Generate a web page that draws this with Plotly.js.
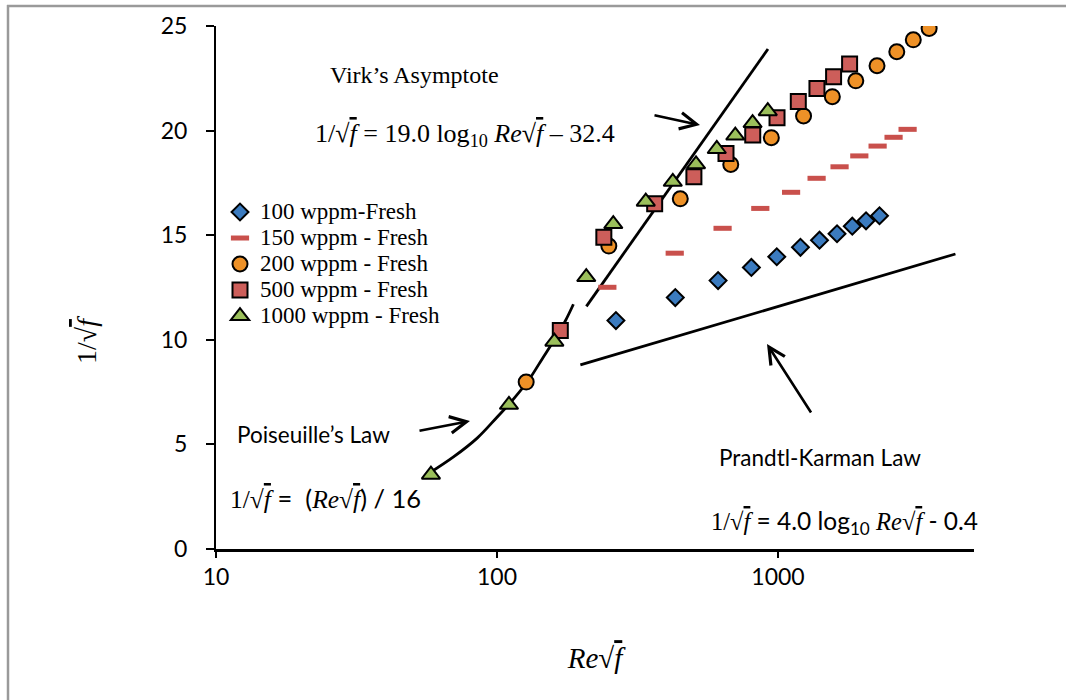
<!DOCTYPE html>
<html><head><meta charset="utf-8">
<script src="https://cdn.plot.ly/plotly-3.0.1.min.js"></script>
<style>html,body{margin:0;padding:0;background:#fff;overflow:hidden}#chart{width:1066px;height:700px}</style>
</head><body><div id="chart"></div>
<script>
// ---- data ----
const seriesNames = ['100 wppm-Fresh', '150 wppm - Fresh', '200 wppm - Fresh', '500 wppm - Fresh', '1000 wppm - Fresh'];
const x100 = [265, 431, 612, 804, 990, 1202, 1405, 1622, 1838, 2057, 2297];
const y100 = [10.92, 12.02, 12.83, 13.46, 13.97, 14.42, 14.76, 15.07, 15.43, 15.69, 15.93];
const x150 = [247, 429, 635, 865, 1113, 1372, 1656, 1947, 2262, 2578, 2892];
const y150 = [12.51, 14.14, 15.33, 16.28, 17.05, 17.72, 18.27, 18.79, 19.26, 19.68, 20.06];
const x200 = [127, 250, 449, 679, 947, 1233, 1561, 1892, 2251, 2647, 3030, 3450];
const y200 = [7.98, 14.48, 16.74, 18.38, 19.66, 20.70, 21.62, 22.38, 23.10, 23.77, 24.34, 24.88];
const x500 = [168, 240, 364, 502, 653, 813, 992, 1181, 1376, 1577, 1798];
const y500 = [10.44, 14.90, 16.50, 17.79, 18.90, 19.79, 20.61, 21.39, 22.01, 22.57, 23.18];
const x1000 = [58.2, 110.3, 160, 207.8, 259.3, 338.4, 422.3, 510.8, 605.6, 704.7, 812, 919.7];
const y1000 = [3.55, 6.89, 9.91, 13.00, 15.53, 16.60, 17.55, 18.39, 19.12, 19.76, 20.36, 20.93];
// theory lines
const xPoiseuille = [57, 70, 85, 100, 115, 130, 145, 160, 175, 187];
const yPoiseuille = [3.6, 4.4, 5.3, 6.3, 7.2, 8.1, 9.1, 10.0, 10.9, 11.7];
const xVirk = [208, 921];
const yVirk = [11.6, 23.9];
const xPrandtl = [198, 4280];
const yPrandtl = [8.8, 14.1];
const xTickVals = [10, 100, 1000];
const xTickText = ['10', '100', '1000'];
const yTickVals = [0, 5, 10, 15, 20, 25];

// ---- geometry helpers (pixel -> paper) ----
const L = 216, R = 92, T = 26, B = 151, W = 1066, H = 700;
const pw = W - L - R, ph = H - T - B;
const px = v => (v - L) / pw;
const py = v => (H - B - v) / ph;

const SERIF = "'Liberation Serif', 'Times New Roman', serif";
const SANS = "Lato, 'Liberation Sans', sans-serif";
const sq = '<span style="text-decoration:overline"><i>f</i></span>';
const mf = '<span style="font-family:\'Liberation Serif\'">';

function lineTrace(x, y, shape) {
  return {x: x, y: y, type: 'scatter', mode: 'lines', showlegend: false, hoverinfo: 'skip',
    line: {color: '#000', width: 2.8, shape: shape || 'linear', smoothing: 1}};
}
function markerTrace(x, y, name, symbol, color, size, lineW, lineC) {
  return {x: x, y: y, type: 'scatter', mode: 'markers',
    name: '<span style="font-size:23px">' + name + '</span>',
    marker: {symbol: symbol, color: color, size: size, line: {color: lineC, width: lineW}}};
}

const traces = [
  lineTrace(xPoiseuille, yPoiseuille, 'spline'),
  lineTrace(xVirk, yVirk),
  lineTrace(xPrandtl, yPrandtl),
  markerTrace(x100, y100, seriesNames[0], 'diamond', '#3B7BBF', 13, 2, '#000'),
  markerTrace(x150, y150, seriesNames[1], 'line-ew', '#C9504C', 13, 5, '#C9504C'),
  markerTrace(x200, y200, seriesNames[2], 'circle', '#EE9127', 15, 2, '#000'),
  markerTrace(x500, y500, seriesNames[3], 'square', '#CD5E5A', 15, 2, '#000'),
  markerTrace(x1000, y1000, seriesNames[4], 'triangle-up', '#9BBF5B', 16, 2, '#000')
];

function label(text, cx, cy, family, size, angle) {
  return {xref: 'paper', yref: 'paper', x: px(cx), y: py(cy), xanchor: 'center', yanchor: 'middle',
    text: text, showarrow: false, textangle: angle || 0, font: {family: family, size: size, color: '#000'}};
}
function arrow(tipX, tipY, tailX, tailY) {
  return {xref: 'paper', yref: 'paper', x: px(tipX), y: py(tipY), text: '', showarrow: true,
    ax: tailX - tipX, ay: tailY - tipY, arrowhead: 5, arrowsize: 1.25, arrowwidth: 2.6, arrowcolor: '#000', standoff: 0};
}
const frameLine = {color: '#9A9A9A', width: 2.5};

const layout = {
  width: W, height: H,
  margin: {l: L, r: R, t: T, b: B, pad: 0},
  paper_bgcolor: '#fff', plot_bgcolor: '#fff',
  showlegend: true,
  legend: {x: px(220), y: py(194), xanchor: 'left', yanchor: 'top', bgcolor: 'rgba(0,0,0,0)',
    font: {family: SERIF, size: 17.7, color: '#000'}, tracegroupgap: 0, itemclick: false},
  xaxis: {type: 'log', range: [1, 1 + pw / 281], tickvals: xTickVals, ticktext: xTickText,
    showline: true, linecolor: '#000', linewidth: 2.5, ticks: 'outside', ticklen: 6, tickwidth: 1.5, tickcolor: '#000',
    showgrid: false, zeroline: false, tickfont: {family: SANS, size: 23, color: '#000'}, ticklabelstandoff: 0,
    title: {text: '<i>Re</i>√' + sq, font: {family: SERIF, size: 29, color: '#000'}, standoff: 59}},
  yaxis: {range: [0, 25], tickvals: yTickVals,
    showline: true, linecolor: '#000', linewidth: 2, ticks: 'outside', ticklen: 8, tickwidth: 2, tickcolor: '#000',
    showgrid: false, zeroline: false, tickfont: {family: SANS, size: 23, color: '#000'}, ticklabelstandoff: 14},
  shapes: [
    {type: 'line', xref: 'paper', yref: 'paper', x0: px(8), x1: px(8), y0: py(700), y1: py(5), line: frameLine, layer: 'below'},
    {type: 'line', xref: 'paper', yref: 'paper', x0: px(7), x1: px(1066), y0: py(6), y1: py(6), line: frameLine, layer: 'below'}
  ],
  annotations: [
    label('1/√' + sq, 86, 340, SERIF, 28, -90),
    label('Virk’s Asymptote', 414, 75, SERIF, 24),
    label('1/√' + sq + ' = 19.0 log<sub>10</sub> <i>Re</i>√' + sq + ' – 32.4', 465, 135, SERIF, 26),
    label('Poiseuille’s Law', 313, 434, SANS, 22.5),
    label(mf + '1/√' + sq + '</span> =  (' + mf + '<i>Re</i>√' + sq + '</span>) / 16', 325, 498, SANS, 25.5),
    label('Prandtl-Karman Law', 820, 457, SANS, 22.5),
    label(mf + '1/√' + sq + '</span> = 4.0 log<sub>10</sub> ' + mf + '<i>Re</i>√' + sq + '</span> - 0.4', 844, 522, SANS, 24.5),
    arrow(700, 125, 653, 115),
    arrow(470, 421, 418, 431),
    arrow(767, 344, 812, 414)
  ]
};

Plotly.newPlot('chart', traces, layout, {displayModeBar: false, staticPlot: true});
</script>
</body></html>
